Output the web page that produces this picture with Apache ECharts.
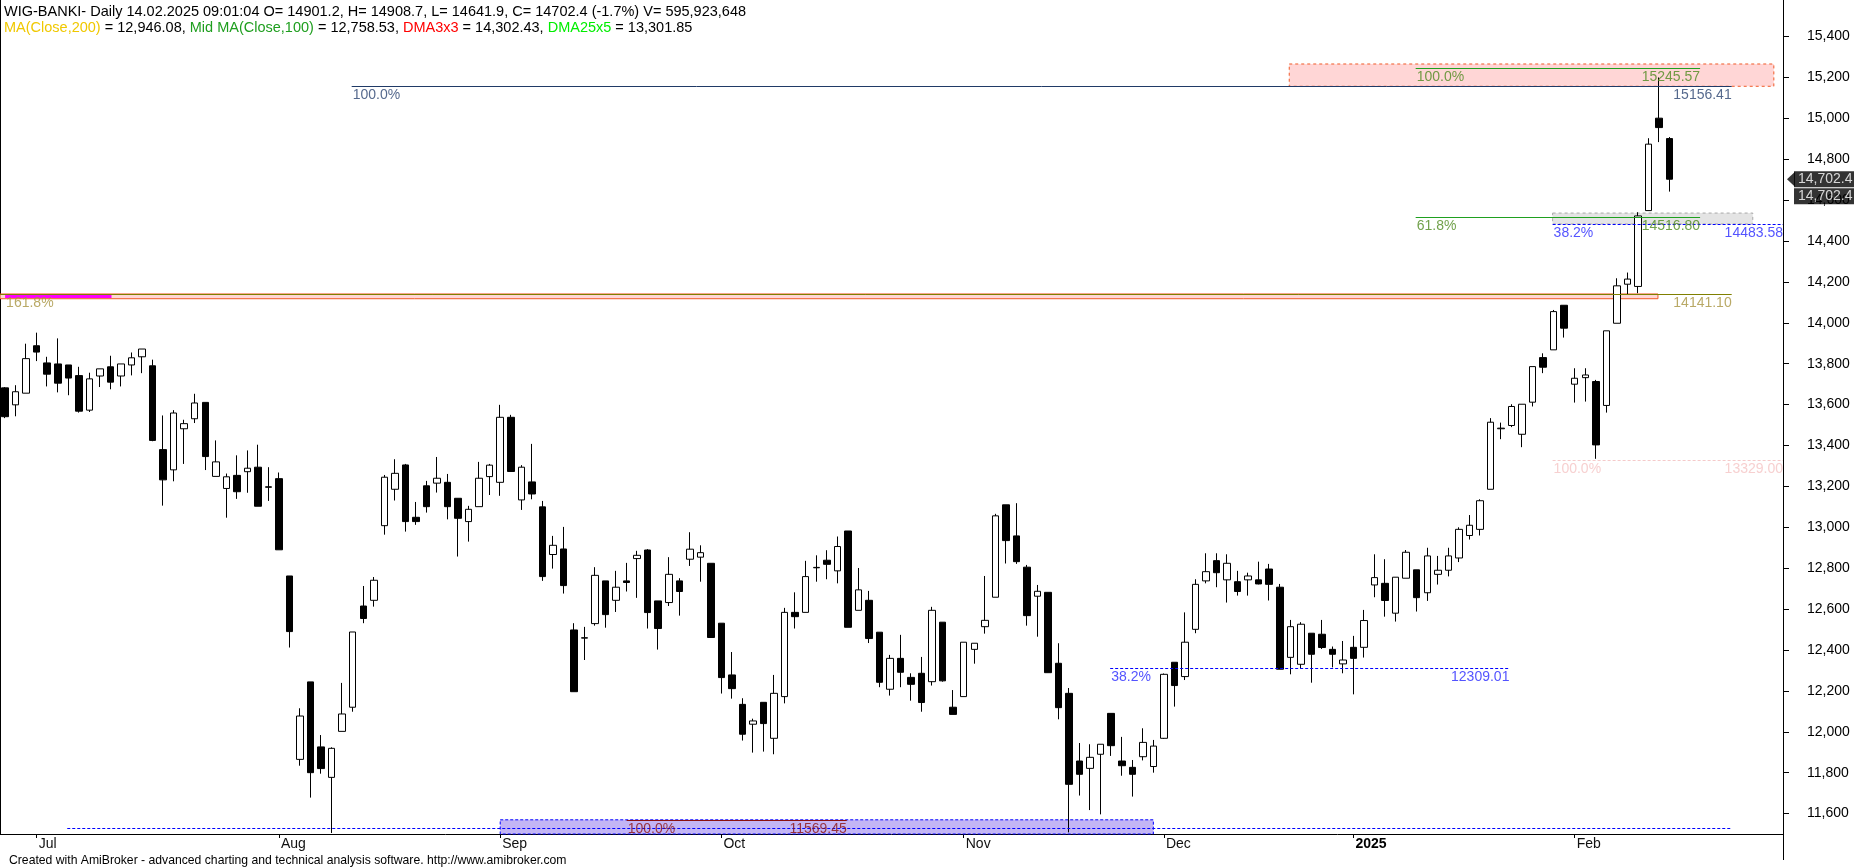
<!DOCTYPE html>
<html><head><meta charset="utf-8">
<script src="https://cdn.jsdelivr.net/npm/echarts@6/dist/echarts.min.js"></script>
<style>html,body{margin:0;padding:0;background:#fff}#c{width:1854px;height:868px}</style>
</head><body><div id="c"></div>
<script>
// ---------------- DATA ----------------
const dates = [
'2024-06-26','2024-06-27','2024-06-28',
'2024-07-01','2024-07-02','2024-07-03','2024-07-04','2024-07-05','2024-07-08','2024-07-09','2024-07-10','2024-07-11','2024-07-12','2024-07-15','2024-07-16','2024-07-17','2024-07-18','2024-07-19','2024-07-22','2024-07-23','2024-07-24','2024-07-25','2024-07-26','2024-07-29','2024-07-30','2024-07-31',
'2024-08-01','2024-08-02','2024-08-05','2024-08-06','2024-08-07','2024-08-08','2024-08-09','2024-08-12','2024-08-13','2024-08-14','2024-08-16','2024-08-19','2024-08-20','2024-08-21','2024-08-22','2024-08-23','2024-08-26','2024-08-27','2024-08-28','2024-08-29','2024-08-30',
'2024-09-02','2024-09-03','2024-09-04','2024-09-05','2024-09-06','2024-09-09','2024-09-10','2024-09-11','2024-09-12','2024-09-13','2024-09-16','2024-09-17','2024-09-18','2024-09-19','2024-09-20','2024-09-23','2024-09-24','2024-09-25','2024-09-26','2024-09-27','2024-09-30',
'2024-10-01','2024-10-02','2024-10-03','2024-10-04','2024-10-07','2024-10-08','2024-10-09','2024-10-10','2024-10-11','2024-10-14','2024-10-15','2024-10-16','2024-10-17','2024-10-18','2024-10-21','2024-10-22','2024-10-23','2024-10-24','2024-10-25','2024-10-28','2024-10-29','2024-10-30','2024-10-31',
'2024-11-04','2024-11-05','2024-11-06','2024-11-07','2024-11-08','2024-11-12','2024-11-13','2024-11-14','2024-11-15','2024-11-18','2024-11-19','2024-11-20','2024-11-21','2024-11-22','2024-11-25','2024-11-26','2024-11-27','2024-11-28','2024-11-29',
'2024-12-02','2024-12-03','2024-12-04','2024-12-05','2024-12-06','2024-12-09','2024-12-10','2024-12-11','2024-12-12','2024-12-13','2024-12-16','2024-12-17','2024-12-18','2024-12-19','2024-12-20','2024-12-23','2024-12-27','2024-12-30',
'2025-01-02','2025-01-03','2025-01-07','2025-01-08','2025-01-09','2025-01-10','2025-01-13','2025-01-14','2025-01-15','2025-01-16','2025-01-17','2025-01-20','2025-01-21','2025-01-22','2025-01-23','2025-01-24','2025-01-27','2025-01-28','2025-01-29','2025-01-30','2025-01-31',
'2025-02-03','2025-02-04','2025-02-05','2025-02-06','2025-02-07','2025-02-10','2025-02-11','2025-02-12','2025-02-13','2025-02-14'];

const opens = [13682,13599,13656,13888,13804,13799,13794,13742,13573,13740,
13785,13740,13794,13834,13790,13380,13281,13482,13531,13611,
13249,13190,13254,13272,13294,13198,13238,12762,11865,12244,
11926,11777,12002,12120,12615,12643,13008,13186,13305,13049,
13203,13216,13220,13142,13028,13101,13248,13220,13538,13134,
13222,13100,12867,12894,12498,12458,12529,12738,12643,12738,
12847,12889,12640,12632,12738,12844,12854,12824,12531,12278,
12134,12037,12144,11968,12172,12584,12584,12802,12839,12787,
12982,12594,12643,12487,12208,12359,12266,12286,12245,12536,
12120,12172,12403,12514,12658,13110,12958,12805,12663,12682,
12335,12188,11857,11821,11890,12090,11857,11826,11878,11830,
11968,12340,12270,12501,12738,12837,12743,12734,12743,12743,
12796,12707,12364,12330,12482,12477,12403,12332,12413,12413,
12718,12726,12580,12751,12792,12680,12770,12790,12850,12960,
12990,13186,13482,13498,13455,13612,13830,13868,14086,13700,
13732,13713,13596,13998,14189,14178,14549,15001,14901.2];
const highs = [13686,13695,13898,13952,13834,13924,13794,13785,13756,13775,
13839,13799,13855,13872,13820,13547,13573,13526,13653,13611,
13425,13263,13352,13376,13404,13294,13268,12762,12115,12244,
11984,11924,12239,12488,12713,12757,13256,13333,13310,13124,
13227,13344,13261,13142,13105,13320,13310,13599,13550,13304,
13408,13129,12958,13002,12531,12513,12805,12738,12787,12826,
12885,12893,12640,12854,12751,12976,12912,12824,12531,12390,
12164,12064,12144,12278,12606,12682,12836,12863,12888,12955,
12982,12801,12689,12487,12376,12474,12286,12366,12611,12536,
12204,12438,12433,12762,13066,13110,13118,12816,12718,12682,
12433,12214,11945,11939,11939,12090,11975,11862,12017,11960,
12285,12340,12584,12746,12873,12873,12868,12787,12778,12832,
12821,12723,12547,12536,12482,12547,12417,12444,12469,12596,
12868,12844,12756,12889,12792,12900,12860,12900,13000,13060,
13137,13534,13512,13602,13602,13786,13851,14063,14086,13778,
13778,13721,13961,14218,14246,14541,14903,15200,14908.7];
const lows = [13534,13543,13656,13813,13689,13660,13646,13561,13564,13686,
13675,13689,13743,13754,13421,13106,13225,13310,13510,13280,
13249,13047,13139,13169,13103,13129,12890,12412,11834,11678,
11795,11505,12002,12098,12531,12612,12964,13131,12979,13012,
13072,13170,13039,12857,12930,13101,13158,13154,13273,13085,
13137,12738,12798,12676,12196,12351,12519,12509,12586,12686,
12655,12505,12402,12615,12568,12811,12734,12461,12187,12162,
11957,11898,11903,11890,12139,12505,12584,12734,12746,12726,
12511,12594,12434,12218,12177,12218,12152,12098,12226,12245,
12085,12172,12333,12480,12658,12823,12821,12519,12465,12289,
12061,11508,11688,11617,11596,11882,11785,11683,11860,11800,
11965,12123,12253,12482,12726,12707,12632,12666,12666,12721,
12642,12306,12281,12310,12240,12405,12315,12286,12183,12363,
12658,12563,12539,12751,12588,12640,12720,12760,12830,12940,
12960,13186,13431,13490,13392,13591,13754,13868,13928,13610,
13615,13335,13561,13998,14137,14145,14549,14884,14641.9];
const closes = [13541,13663,13825,13857,13749,13705,13730,13568,13726,13775,
13710,13799,13829,13872,13425,13232,13559,13507,13608,13346,
13320,13247,13174,13289,13103,13196,12890,12490,12077,11800,
11820,11919,12087,12488,12554,12741,13245,13264,13028,13028,
13101,13240,13101,13044,13088,13240,13304,13538,13273,13294,
13163,12759,12912,12715,12196,12460,12765,12573,12707,12730,
12863,12583,12505,12770,12686,12893,12876,12461,12265,12211,
11988,12053,12040,12188,12584,12563,12759,12804,12819,12906,
12511,12694,12456,12242,12359,12291,12232,12143,12594,12249,
12085,12438,12433,12545,13056,12935,12832,12568,12687,12289,
12118,11743,11792,11875,11939,11932,11834,11792,11948,11930,
12281,12226,12438,12721,12783,12778,12824,12686,12762,12723,
12721,12306,12514,12526,12379,12412,12379,12351,12359,12544,
12754,12642,12756,12878,12656,12860,12790,12860,12990,13010,
13130,13514,13485,13591,13602,13786,13783,14055,13974,13729,
13745,13403,13961,14181,14214,14523,14874,14955,14702.4];
const volumeLast = '595,923,648';
const changePct = '-1.7%';

const monthTickLabels = ['Jul','Aug','Sep','Oct','Nov','Dec','2025','Feb'];
const priceTicks = [11600,11800,12000,12200,12400,12600,12800,13000,13200,13400,13600,13800,14000,14200,14400,14600,14800,15000,15200,15400];
const indicatorNames = ['MA(Close,200)','Mid MA(Close,100)','DMA3x3','DMA25x5'];
const indicatorValues = ['12,946.08','12,758.53','14,302.43','13,301.85'];

// drawing levels (price), spans in bar index, and their labels
const levelValues    = [15245.57, 15156.41, 14516.80, 14483.58, 14141.10, 13329.00, 12309.01, 11569.45, 11530.03];
const levelStartBar  = [133.9, 32.9, 133.9, 146.9, -0.48, 146.9, 104.9, 59.0, 5.9];
const levelEndBar    = [160.9, 163.9, 160.9, 168.77, 163.9, 168.77, 142.8, 79.9, 163.9];
const levelLeftText  = ['100.0%','100.0%','61.8%','38.2%','161.8%','100.0%','38.2%','100.0%',''];
const levelRightText = ['15245.57','15156.41','14516.80','14483.58','14141.10','13329.00','12309.01','11569.45',''];
// zones (price low/high, span in bar index)
const zoneLow      = [15157, 14118, 14483.58, 11500];
const zoneHigh     = [15266, 14141.10, 14537, 11569.45];
const zoneStartBar = [121.9, -0.48, 146.9, 47.0];
const zoneEndBar   = [167.9, 156.9, 165.9, 109.0];
const markerValue = 14132, markerStartBar = 0, markerEndBar = 10.1;

// ---------------- STYLE ----------------
const FONT = '"Liberation Sans", Arial, Helvetica, sans-serif';
const X_MIN = -0.484, X_MAX = 168.77, Y_MIN = 11500, Y_MAX = 15579;
const levelStyle = [
  {c:'#1FA01F', t:'#4E8A1E', type:'solid', w:1},
  {c:'#203A66', t:'#2A4470', type:'solid', w:1},
  {c:'#1FA01F', t:'#4E8A1E', type:'solid', w:1},
  {c:'#0000FF', t:'#2828FF', type:[3,2], w:1},
  {c:'#808000', t:'#A89440', type:'solid', w:1},
  {c:'#F5CACA', t:'#F5C4C4', type:[3,2], w:1},
  {c:'#0000FF', t:'#2828FF', type:[3,2], w:1},
  {c:'#8B1010', t:'#8B1010', type:'solid', w:1},
  {c:'#0000FF', t:'#2828FF', type:[3,2], w:1}
];
const zoneStyle = [
  {fill:'#FFD6D6', border:'#F05A28', type:[3,3]},
  {fill:'#FFD6D6', border:'#F05A28', type:'solid'},
  {fill:'#E4E4E4', border:'#A8A8A8', type:[3,3]},
  {fill:'#C3B5F5', border:'#0000FF', type:[3,2]}
];

// ---------------- BUILD ----------------
const candleData = dates.map((d, i) => [i, opens[i], closes[i], lows[i], highs[i]]);
const monthStartIdx = [];
for (let i = 1; i < dates.length; i++) {
  if (dates[i].slice(5, 7) !== dates[i - 1].slice(5, 7)) monthStartIdx.push(i);
}
const last = dates.length - 1;
const fmt = v => Number(v).toLocaleString('en-US');
const fmt1 = v => Number(v).toLocaleString('en-US', {minimumFractionDigits:1, maximumFractionDigits:1});

const markLineData = levelValues.map((v, i) => [
  {coord:[levelStartBar[i], v], lineStyle:{color:levelStyle[i].c, type:levelStyle[i].type, width:levelStyle[i].w}},
  {coord:[levelEndBar[i], v]}
]);
markLineData.push([
  {coord:[markerStartBar, markerValue], lineStyle:{color:'#FF00FF', type:'solid', width:3}},
  {coord:[markerEndBar, markerValue]}
]);
const markAreaData = zoneLow.map((lo, i) => [
  {coord:[zoneStartBar[i], zoneHigh[i]], itemStyle:{color:zoneStyle[i].fill, borderColor:zoneStyle[i].border, borderWidth:1, borderType:zoneStyle[i].type}},
  {coord:[zoneEndBar[i], lo]}
]);

const labelItems = [];
levelValues.forEach((v, i) => {
  const col = levelStyle[i].t;
  if (levelLeftText[i]) labelItems.push({value:[Math.max(levelStartBar[i], 0), v],
    label:{show:true, formatter:levelLeftText[i], color:col, position:[1, 2], align:'left', verticalAlign:'top', fontSize:14, fontFamily:FONT}});
  if (levelRightText[i]) labelItems.push({value:[levelEndBar[i], v],
    label:{show:true, formatter:levelRightText[i], color:col, position:[0, 2], align:'right', verticalAlign:'top', fontSize:14, fontFamily:FONT}});
});

const lastTxt = fmt1(closes[last]);
const header =
  '{k|WIG-BANKI- Daily 14.02.2025 09:01:04 O= ' + opens[last] + ', H= ' + highs[last] + ', L= ' + lows[last] +
  ', C= ' + closes[last] + ' (' + changePct + ') V= ' + volumeLast + '}\n' +
  '{y|' + indicatorNames[0] + '}{k| = ' + indicatorValues[0] + ', }' +
  '{g|' + indicatorNames[1] + '}{k| = ' + indicatorValues[1] + ', }' +
  '{r|' + indicatorNames[2] + '}{k| = ' + indicatorValues[2] + ', }' +
  '{l|' + indicatorNames[3] + '}{k| = ' + indicatorValues[3] + '}';
const hs = c => ({color:c, fontSize:14.5, fontWeight:'normal', fontFamily:FONT, lineHeight:16.5});
const tagLabel = dy => ({show:true, formatter:lastTxt, position:[11, dy], align:'left', verticalAlign:'middle', color:'#fff',
  backgroundColor:'#000', padding:[1,5,1,4], fontSize:14, lineHeight:14, fontFamily:FONT});

const chart = echarts.init(document.getElementById('c'), null, {renderer:'canvas', width:1854, height:868});
chart.setOption({
  animation:false,
  backgroundColor:'#fff',
  title:[
    {left:4, top:3.5, padding:0, text:header, textStyle:{fontWeight:'normal', rich:{k:hs('#000'), y:hs('#F0C800'), g:hs('#1E9E1E'), r:hs('#FF0000'), l:hs('#00EE00')}}},
    {left:9, top:855, padding:0, text:'Created with AmiBroker - advanced charting and technical analysis software. http://www.amibroker.com',
     textStyle:{color:'#000', fontSize:12.2, fontWeight:'normal', fontFamily:FONT}}
  ],
  grid:{left:0, right:71, top:0, bottom:34},
  xAxis:[{
    type:'value', min:X_MIN, max:X_MAX, position:'bottom',
    axisLine:{show:true, onZero:false, lineStyle:{color:'#000', width:1}},
    axisTick:{show:true, customValues:monthStartIdx, length:4, lineStyle:{color:'#000'}},
    axisLabel:{show:true, customValues:monthStartIdx, align:'left', margin:3, padding:[0,0,0,2],
      fontSize:14, fontFamily:FONT, color:'#111',
      formatter:v => { const k = monthStartIdx.indexOf(Math.round(v)); const t = monthTickLabels[k] || ''; return /^\d{4}$/.test(t) ? '{b|' + t + '}' : t; },
      rich:{b:{fontWeight:'bold', fontSize:14, fontFamily:FONT, color:'#000'}}},
    splitLine:{show:false}
  }],
  yAxis:[{
    type:'value', position:'right', min:Y_MIN, max:Y_MAX,
    axisLine:{show:true, onZero:false, lineStyle:{color:'#000'}},
    axisTick:{show:true, customValues:priceTicks, length:6, inside:false, lineStyle:{color:'#000'}},
    axisLabel:{show:true, customValues:priceTicks, formatter:v => fmt(v), margin:24, fontSize:14, fontFamily:FONT, color:'#000'},
    splitLine:{show:false}
  },{
    type:'value', position:'left', min:Y_MIN, max:Y_MAX,
    axisLine:{show:true, onZero:false, lineStyle:{color:'#000'}},
    axisTick:{show:false}, axisLabel:{show:false}, splitLine:{show:false}
  }],
  series:[
    {
      type:'line', data:[], silent:true, z:1,
      markArea:{silent:true, z:1, data:markAreaData},
      markLine:{silent:true, z:6, symbol:['none','none'], label:{show:false}, data:markLineData}
    },
    {
      type:'candlestick', data:candleData, encode:{x:0, y:[1,2,3,4]}, barWidth:7, z:3,
      itemStyle:{color:'#fff', color0:'#000', borderColor:'#000', borderColor0:'#000', borderColorDoji:'#000', borderWidth:1}
    },
    {
      type:'scatter', data:labelItems, symbol:'circle', symbolSize:0, clip:false, silent:true, z:7
    },
    {
      type:'scatter', clip:false, silent:true, z:8,
      data:[
        {value:[X_MAX, closes[last]], symbol:'triangle', symbolSize:[15,8], symbolRotate:90, symbolOffset:[8,0], itemStyle:{color:'#000'}},
        {value:[X_MAX, closes[last]], symbol:'circle', symbolSize:0, itemStyle:{color:'#000'}, label:tagLabel(0)},
        {value:[X_MAX, closes[last]], symbol:'circle', symbolSize:0, itemStyle:{color:'#000'}, label:tagLabel(17)}
      ]
    }
  ],
  graphic:[{type:'line', shape:{x1:1783.5, y1:834, x2:1783.5, y2:860}, style:{stroke:'#000', lineWidth:1}, silent:true}]
});
</script></body></html>
